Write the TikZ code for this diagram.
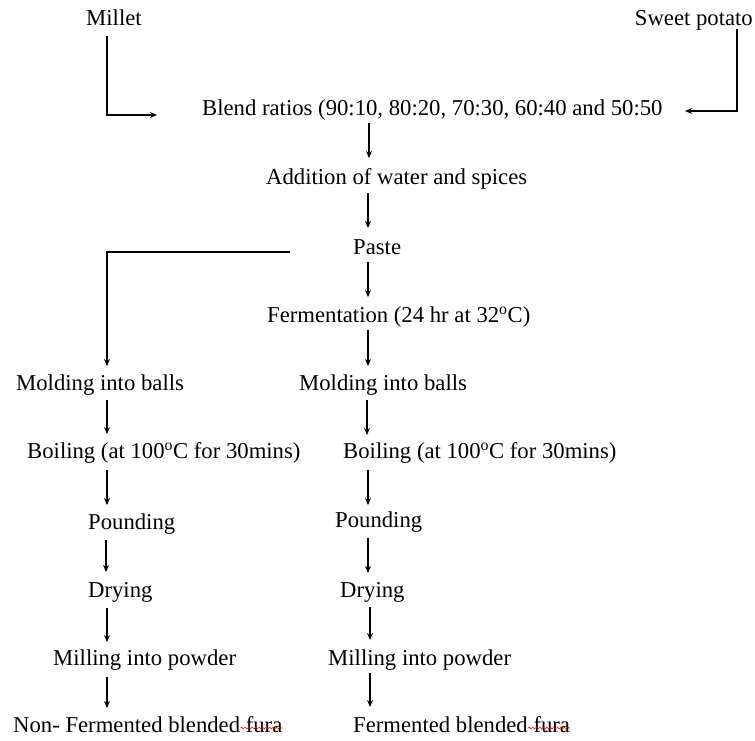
\documentclass[tikz,border=0pt]{standalone}
\usepackage{fontspec}
\setmainfont{Liberation Serif}
\usetikzlibrary{arrows.meta,decorations.pathmorphing}
\begin{document}
\begin{tikzpicture}[x=1pt,y=-1pt,
  lbl/.style={inner sep=0pt, anchor=base west, font=\fontsize{22.7}{26}\selectfont},
  arr/.style={-{Stealth[length=7pt,width=6pt]}, line width=1.2pt},
  spell/.style={red, line width=0.6pt, decorate, decoration={snake, amplitude=0.9pt, segment length=3.5pt}}]
\useasboundingbox (0,0) rectangle (755,740);
% nodes
\node[lbl] (millet) at (86,25) {Millet};
\node[lbl, anchor=base east] (sweet) at (753,25) {Sweet potato};
\node[lbl] (blend) at (202,115) {Blend ratios (90:10, 80:20, 70:30, 60:40 and 50:50};
\node[lbl] (water) at (266,184) {Addition of water and spices};
\node[lbl] (paste) at (353,254) {Paste};
\node[lbl] (ferm) at (267,322) {Fermentation (24 hr at 32\textsuperscript{o}C)};
\node[lbl] (moldL) at (16,390) {Molding into balls};
\node[lbl] (moldR) at (299,390) {Molding into balls};
\node[lbl] (boilL) at (27,458) {Boiling (at 100\textsuperscript{o}C for 30mins)};
\node[lbl] (boilR) at (343,458) {Boiling (at 100\textsuperscript{o}C for 30mins)};
\node[lbl] (poundL) at (88,529) {Pounding};
\node[lbl] (poundR) at (335,527) {Pounding};
\node[lbl] (dryL) at (88,597) {Drying};
\node[lbl] (dryR) at (340,597) {Drying};
\node[lbl] (millL) at (53,665) {Milling into powder};
\node[lbl] (millR) at (328,665) {Milling into powder};
\node[lbl] (finL) at (13,732) {Non- Fermented blended fura};
\node[lbl] (finR) at (353,732) {Fermented blended fura};
% coordinates for connector ends
\coordinate (m1) at (107,36);
\coordinate (m2) at (107,115);
\coordinate (m3) at (157,115);
\coordinate (s1) at (737,29);
\coordinate (s2) at (737,111);
\coordinate (s3) at (685,111);
\coordinate (b1) at (369,123);
\coordinate (b2) at (369,158);
\coordinate (w1) at (368,193);
\coordinate (w2) at (368,228);
\coordinate (p0) at (290,252);
\coordinate (p1) at (107,252);
\coordinate (p2) at (107,366);
\coordinate (p3) at (368,262);
\coordinate (p4) at (368,297);
\coordinate (f1) at (368,330);
\coordinate (f2) at (368,366);
\coordinate (ml1) at (107,400);
\coordinate (ml2) at (107,434);
\coordinate (mr1) at (367,400);
\coordinate (mr2) at (367,435);
\coordinate (bl1) at (107,470);
\coordinate (bl2) at (107,505);
\coordinate (br1) at (368,470);
\coordinate (br2) at (368,505);
\coordinate (pl1) at (106,540);
\coordinate (pl2) at (106,572);
\coordinate (pr1) at (368,538);
\coordinate (pr2) at (368,573);
\coordinate (dl1) at (107,608);
\coordinate (dl2) at (107,642);
\coordinate (dr1) at (370,607);
\coordinate (dr2) at (370,640);
\coordinate (il1) at (107,677);
\coordinate (il2) at (107,708);
\coordinate (ir1) at (370,673);
\coordinate (ir2) at (370,707);
% connectors
\draw[arr] (m1) -- (m2) -- (m3);
\draw[arr] (s1) -- (s2) -- (s3);
\draw[arr] (b1) -- (b2);
\draw[arr] (w1) -- (w2);
\draw[arr] (p0) -- (p1) -- (p2);
\draw[arr] (p3) -- (p4);
\draw[arr] (f1) -- (f2);
\draw[arr] (ml1) -- (ml2);
\draw[arr] (mr1) -- (mr2);
\draw[arr] (bl1) -- (bl2);
\draw[arr] (br1) -- (br2);
\draw[arr] (pl1) -- (pl2);
\draw[arr] (pr1) -- (pr2);
\draw[arr] (dl1) -- (dl2);
\draw[arr] (dr1) -- (dr2);
\draw[arr] (il1) -- (il2);
\draw[arr] (ir1) -- (ir2);
% spell-check underlines
\draw[spell] ([xshift=-42pt,yshift=4pt]finL.base east) -- ([yshift=4pt]finL.base east);
\draw[spell] ([xshift=-42pt,yshift=4pt]finR.base east) -- ([yshift=4pt]finR.base east);
\end{tikzpicture}
\end{document}
